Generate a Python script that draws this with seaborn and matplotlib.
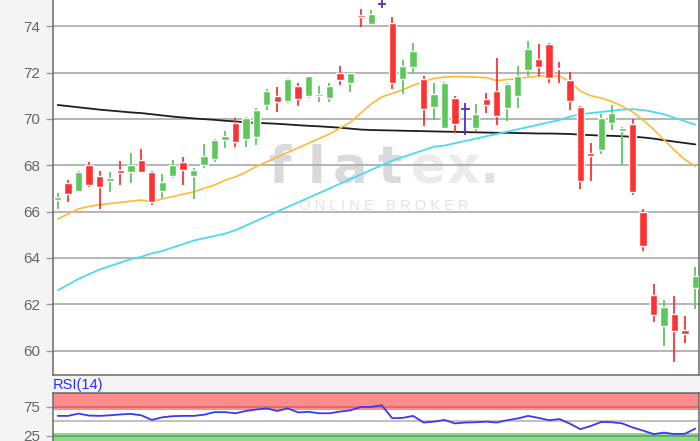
import numpy as np
import pandas as pd
import matplotlib
matplotlib.use("Agg")
import matplotlib.pyplot as plt
import seaborn as sns

# daily candles
opens = [66.5, 67.25, 66.87, 68.0, 67.55, 67.33, 67.8, 67.69, 68.24, 67.73,
         66.87, 67.55, 68.14, 67.55, 68.02, 68.27, 69.07, 69.82, 69.13, 69.24,
         70.61, 71.0, 70.79, 71.43, 71.0, 70.97, 70.9, 71.97, 71.54, 74.48,
         74.09, 74.96, 74.13, 71.73, 72.26, 71.73, 70.51, 69.6, 70.92, 70.44,
         69.6, 70.87, 71.22, 70.47, 70.97, 72.09, 72.6, 73.24, 72.18, 71.69,
         70.53, 68.53, 68.67, 69.84, 69.46, 69.78, 65.98, 62.39, 61.05, 61.6,
         60.91, 62.71]
closes = [66.62, 66.75, 67.7, 67.15, 67.05, 67.47, 67.66, 68.02, 67.73, 66.4,
          67.28, 67.99, 67.78, 67.81, 68.38, 69.1, 69.27, 69.0, 70.03, 70.39,
          71.22, 70.75, 71.73, 70.85, 71.83, 71.08, 71.44, 71.69, 72.0, 74.4,
          74.52, 74.96, 71.57, 72.29, 72.91, 70.42, 71.08, 71.57, 69.79, 70.44,
          70.21, 70.58, 70.13, 71.5, 71.87, 73.01, 72.22, 71.76, 72.14, 70.79,
          67.3, 68.38, 70.03, 70.25, 69.6, 66.83, 64.53, 61.56, 61.89, 60.84,
          60.74, 63.24]
highs = [66.8, 67.35, 67.75, 68.15, 67.75, 67.73, 68.2, 68.53, 68.7, 67.77,
         67.63, 68.24, 68.35, 67.9, 68.91, 69.15, 69.49, 70.03, 70.1, 70.47,
         71.28, 71.37, 71.78, 71.54, 71.87, 71.43, 71.54, 72.29, 72.04, 74.73,
         74.7, 75.2, 74.41, 72.55, 73.29, 71.83, 71.54, 71.6, 71.0, 70.7,
         70.65, 71.11, 72.62, 71.54, 72.29, 73.34, 73.22, 73.29, 72.47, 72.04,
         70.56, 68.98, 70.21, 70.61, 69.67, 69.99, 66.12, 62.89, 62.17, 62.34,
         61.51, 63.61]
lows = [66.11, 66.4, 66.85, 67.05, 66.1, 66.83, 67.15, 67.23, 67.7, 66.27,
        66.6, 67.45, 67.16, 66.54, 67.88, 68.15, 68.74, 68.77, 68.8, 68.88,
        70.39, 70.28, 70.68, 70.56, 70.9, 70.71, 70.75, 71.47, 71.18, 73.98,
        74.0, 74.78, 71.28, 71.07, 72.0, 69.7, 69.96, 69.55, 69.41, 69.31,
        69.46, 70.25, 69.75, 69.93, 70.47, 71.86, 71.86, 71.57, 71.57, 70.39,
        66.97, 67.3, 68.5, 69.53, 68.02, 66.73, 64.28, 61.22, 60.22, 59.5,
        60.34, 61.8]

# moving averages
ma_short = [65.68, 65.9, 66.12, 66.22, 66.3, 66.35, 66.4, 66.45, 66.5, 66.42,
            66.55, 66.65, 66.75, 66.85, 67.0, 67.15, 67.35, 67.5, 67.7, 67.95,
            68.15, 68.35, 68.55, 68.75, 68.95, 69.15, 69.35, 69.6, 69.85, 70.25,
            70.65, 70.95, 71.1, 71.25, 71.45, 71.6, 71.75, 71.8, 71.83, 71.82,
            71.8, 71.78, 71.65, 71.7, 71.73, 71.8, 71.85, 71.85, 71.85, 71.6,
            71.2, 71.0, 70.9, 70.75, 70.55, 70.3, 69.95, 69.55, 69.1, 68.65,
            68.25, 67.95]
ma_mid = [62.6, 62.85, 63.1, 63.3, 63.5, 63.65, 63.8, 63.95, 64.05, 64.2,
          64.3, 64.45, 64.6, 64.75, 64.85, 64.95, 65.05, 65.2, 65.4, 65.6,
          65.8, 66.0, 66.2, 66.4, 66.6, 66.8, 67.0, 67.2, 67.4, 67.6,
          67.8, 68.0, 68.2, 68.35, 68.5, 68.65, 68.8, 68.85, 68.95, 69.05,
          69.15, 69.25, 69.35, 69.45, 69.55, 69.65, 69.75, 69.85, 69.95, 70.1,
          70.2, 70.25, 70.3, 70.35, 70.4, 70.42, 70.38, 70.3, 70.2, 70.05,
          69.9, 69.75]
ma_long = [70.6, 70.55, 70.5, 70.45, 70.4, 70.36, 70.32, 70.28, 70.25, 70.2,
           70.15, 70.1, 70.06, 70.02, 69.99, 69.96, 69.92, 69.89, 69.85, 69.83,
           69.81, 69.79, 69.76, 69.73, 69.7, 69.68, 69.65, 69.62, 69.58, 69.54,
           69.52, 69.51, 69.5, 69.49, 69.48, 69.47, 69.46, 69.45, 69.44, 69.43,
           69.42, 69.41, 69.4, 69.4, 69.39, 69.38, 69.37, 69.37, 69.36, 69.35,
           69.32, 69.3, 69.28, 69.27, 69.25, 69.23, 69.2, 69.15, 69.08, 69.02,
           68.96, 68.9]

rsi = [59.5, 59.5, 63.5, 60, 59.5, 60.5, 62, 63, 60.5, 52.5,
       57, 59, 59.5, 59.5, 61.5, 66, 66, 64, 68, 70.5,
       72.5, 68, 72.5, 65.5, 66.5, 64, 64, 67, 69, 75,
       75, 78, 55.5, 56, 59.5, 48, 49.5, 52.5, 46.5, 48,
       48.5, 49.5, 48, 52, 55, 59.5, 56, 52, 54, 46,
       36.5, 42, 49, 48.5, 46.5, 39.5, 34, 28, 30.5, 28,
       28.5, 37.5]

price_ticks = [60, 62, 64, 66, 68, 70, 72, 74]
rsi_ticks = [25, 75]

df = pd.DataFrame({"open": opens, "close": closes, "high": highs, "low": lows,
                   "ma20": ma_short, "ma50": ma_mid, "ma200": ma_long, "rsi": rsi})
df["day"] = np.arange(len(df))

GREEN = "#5cc85c"
RED = "#ff3232"
BLUE = "#4a2fd8"

sns.set_theme(style="white")
plt.rcParams["font.family"] = ["Liberation Sans", "DejaVu Sans"]

fig = plt.figure(figsize=(7, 4.41), dpi=100, facecolor="#f4f4f4")
ax = fig.add_axes([53 / 700, 1 - 375 / 441, 646 / 700, 375 / 441])
ax_rsi = fig.add_axes([53 / 700, 0, 646 / 700, 1 - 392.5 / 441])
ax.set_facecolor("white")

# watermark, behind the grid
for ch, xp, col in [("f", 280, "#dadada"), ("l", 317, "#dadada"), ("a", 350, "#dadada"),
                    ("t", 390, "#dadada"), ("e", 428, "#ebebeb"), ("x", 463, "#ebebeb"),
                    (".", 490, "#e2e2e2")]:
    ax.text(xp / 700, 1 - 183 / 441, ch, fontsize=37, fontweight="bold", color=col,
            ha="center", va="baseline", family="DejaVu Sans", zorder=0.2,
            transform=fig.transFigure)
ax.text(384 / 700, 1 - 206 / 441, "O N L I N E   B R O K E R", fontsize=10.5,
        color="#e2e2e2", ha="center", va="center", zorder=0.2, transform=fig.transFigure)

# candles
up = df[df["close"] > df["open"]]
down = df[df["close"] < df["open"]]
flat = df[df["close"] == df["open"]]
for part, col in [(up, GREEN), (down, RED)]:
    ax.vlines(part["day"], part["low"], part["high"], color=col, lw=1.3, zorder=3)
    bottom = np.minimum(part["open"], part["close"])
    height = np.maximum((part["close"] - part["open"]).abs(), 0.04)
    ax.bar(part["day"], height, bottom=bottom, width=0.7, color=col, zorder=4)
ax.vlines(flat["day"], flat["low"], flat["high"], color=BLUE, lw=1.3, zorder=3)
ax.hlines(flat["close"], flat["day"] - 0.4, flat["day"] + 0.4, color=BLUE, lw=1.3, zorder=3)

sns.lineplot(data=df, x="day", y="ma200", ax=ax, color="#1e1e1e", lw=1.3, zorder=2)
sns.lineplot(data=df, x="day", y="ma50", ax=ax, color="#4dd8f6", lw=1.3, zorder=2)
sns.lineplot(data=df, x="day", y="ma20", ax=ax, color="#ffb937", lw=1.2, zorder=2)

ax.set_xlim(-0.45, 61.35)
ax.set_ylim(58.95, 75.13)
ax.set_yticks(price_ticks)
ax.set_xticks([])
ax.set_xlabel("")
ax.set_ylabel("")
ax.set_axisbelow(True)
ax.grid(axis="y", color="#a8a8a8", lw=1.2)
ax.tick_params(axis="y", length=5, width=1, color="#999999", labelcolor="#666666",
               labelsize=11, pad=4, left=True)
for side in ["left", "bottom", "right"]:
    ax.spines[side].set_color("#6a6a6a")
    ax.spines[side].set_linewidth(1.1)
ax.spines["top"].set_visible(False)

# RSI panel
ax_rsi.set_facecolor("white")
ax_rsi.axhspan(70, 100, color="#ff8c8c", lw=0, zorder=0.5)
ax_rsi.axhspan(0, 30, color="#8fd88f", lw=0, zorder=0.5)
ax_rsi.axhline(75, color="#d86a6a", lw=1.3, zorder=1)
ax_rsi.axhline(50, color="#b5b5b5", lw=1.2, zorder=1)
ax_rsi.axhline(25, color="#5cae5c", lw=1.3, zorder=1)
ax_rsi.axhline(99.3, color="#d86a6a", lw=1.3, zorder=1)
sns.lineplot(data=df, x="day", y="rsi", ax=ax_rsi, color="#3a3af0", lw=1.3, zorder=3)
ax_rsi.set_xlim(-0.45, 61.35)
ax_rsi.set_ylim(16, 100)
ax_rsi.set_yticks(rsi_ticks)
ax_rsi.set_xticks([])
ax_rsi.set_xlabel("")
ax_rsi.set_ylabel("")
ax_rsi.tick_params(axis="y", length=5, width=1, color="#999999", labelcolor="#666666",
                   labelsize=11, pad=4, left=True)
for side in ["left", "right", "top"]:
    ax_rsi.spines[side].set_color("#6a6a6a")
    ax_rsi.spines[side].set_linewidth(1.1)
ax_rsi.spines["bottom"].set_visible(False)

fig.text(53 / 700, 1 - 385 / 441, "RSI(14)", color="#2b2bff", fontsize=10.5,
         ha="left", va="center")

fig.savefig("out.png", dpi=100, facecolor=fig.get_facecolor())
